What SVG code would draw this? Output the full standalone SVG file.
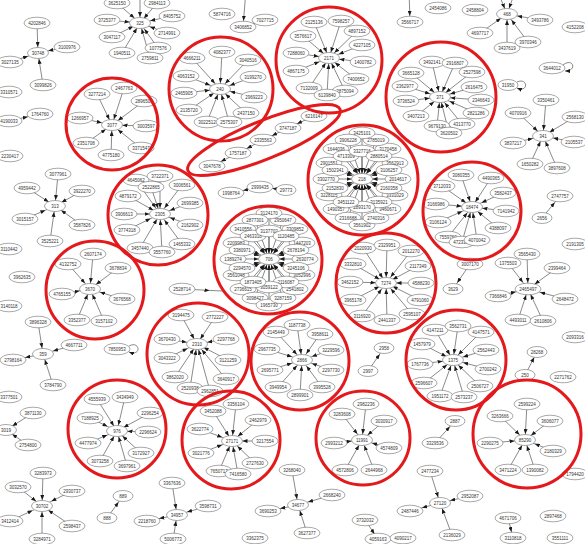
<svg xmlns="http://www.w3.org/2000/svg" width="585" height="544" viewBox="0 0 585 544">
<style>
ellipse{fill:#fff;stroke:#6e6e6e;stroke-width:.6}
.s ellipse{rx:13px;ry:5.8px}
.t ellipse{rx:10px;ry:5.5px}
.hb ellipse{rx:10.5px;ry:5.5px}
text{font-family:"Liberation Sans",Arial,sans-serif;font-size:4.5px;fill:#333;text-anchor:middle;dominant-baseline:central}
#edges line,#edges path{stroke:#3a3a3a;stroke-width:.6;fill:none}
.h{marker-end:url(#mh)}.d{marker-end:url(#md)}.v{marker-end:url(#mv)}
.H{marker-end:url(#sh)}.D{marker-end:url(#sd)}.V{marker-end:url(#sv)}.M{marker-end:url(#sm)}.A{marker-end:url(#ma)}
.ring{fill:none;stroke:#e3191c;stroke-width:3}
marker path{fill:#1a1a1a}
</style>
<defs>
<marker id="mh" markerUnits="userSpaceOnUse" markerWidth="5" markerHeight="4" refX="15.5" refY="2" orient="auto"><path d="M0,0L5,2L0,4z"/></marker>
<marker id="md" markerUnits="userSpaceOnUse" markerWidth="5" markerHeight="4" refX="12.5" refY="2" orient="auto"><path d="M0,0L5,2L0,4z"/></marker>
<marker id="mv" markerUnits="userSpaceOnUse" markerWidth="5" markerHeight="4" refX="11" refY="2" orient="auto"><path d="M0,0L5,2L0,4z"/></marker>
<marker id="sh" markerUnits="userSpaceOnUse" markerWidth="5" markerHeight="4" refX="17.5" refY="2" orient="auto"><path d="M0,0L5,2L0,4z"/></marker>
<marker id="sd" markerUnits="userSpaceOnUse" markerWidth="5" markerHeight="4" refX="13.3" refY="2" orient="auto"><path d="M0,0L5,2L0,4z"/></marker>
<marker id="sv" markerUnits="userSpaceOnUse" markerWidth="5" markerHeight="4" refX="11.2" refY="2" orient="auto"><path d="M0,0L5,2L0,4z"/></marker>
<marker id="sm" markerUnits="userSpaceOnUse" markerWidth="5" markerHeight="4" refX="15" refY="2" orient="auto"><path d="M0,0L5,2L0,4z"/></marker>
<marker id="ma" markerUnits="userSpaceOnUse" markerWidth="5" markerHeight="4" refX="5" refY="2" orient="auto"><path d="M0,0L5,2L0,4z"/></marker>
</defs>
<rect width="585" height="544" fill="#fff"/>
<g id="edges">
<line class="v" x1="37" y1="23" x2="38" y2="53"/><line class="h" x1="67" y1="47" x2="38" y2="53"/><line class="v" x1="43" y1="85" x2="38" y2="53"/><line class="h" x1="10" y1="62" x2="38" y2="53"/>
<line class="h" x1="107" y1="20" x2="140" y2="23"/><line class="h" x1="172" y1="16" x2="140" y2="23"/><line class="d" x1="112" y1="37" x2="140" y2="23"/><line class="h" x1="167" y1="33" x2="140" y2="23"/><line class="v" x1="122" y1="53" x2="140" y2="23"/><line class="d" x1="158" y1="48" x2="140" y2="23"/><line class="v" x1="150" y1="58" x2="140" y2="23"/><line class="d" x1="117" y1="3" x2="140" y2="23"/><line class="v" x1="157" y1="3" x2="140" y2="23"/><line class="v" x1="140" y1="-6" x2="140" y2="23"/>
<line class="H" x1="265" y1="20" x2="243" y2="27"/><line class="V" x1="246" y1="-10" x2="243" y2="27"/>
<line class="d" x1="192" y1="58" x2="220" y2="89"/><line class="v" x1="222" y1="52" x2="220" y2="89"/><line class="d" x1="248" y1="60" x2="220" y2="89"/><line class="h" x1="186" y1="76" x2="220" y2="89"/><line class="h" x1="253" y1="77" x2="220" y2="89"/><line class="h" x1="184" y1="93" x2="220" y2="89"/><line class="h" x1="254" y1="97" x2="220" y2="89"/><line class="d" x1="189" y1="110" x2="220" y2="89"/><line class="d" x1="246" y1="113" x2="220" y2="89"/><line class="v" x1="207" y1="122" x2="220" y2="89"/><line class="v" x1="229" y1="122" x2="220" y2="89"/>
<line class="v" x1="314" y1="22" x2="329" y2="58"/><line class="v" x1="341" y1="21" x2="329" y2="58"/><line class="d" x1="357" y1="31" x2="329" y2="58"/><line class="d" x1="303" y1="36" x2="329" y2="58"/><line class="h" x1="362" y1="45" x2="329" y2="58"/><line class="h" x1="296" y1="53" x2="329" y2="58"/><line class="h" x1="363" y1="62" x2="329" y2="58"/><line class="h" x1="296" y1="71" x2="329" y2="58"/><line class="d" x1="356" y1="79" x2="329" y2="58"/><line class="v" x1="309" y1="88" x2="329" y2="58"/><line class="v" x1="345" y1="91" x2="329" y2="58"/><line class="v" x1="327" y1="95" x2="329" y2="58"/>
<line class="v" x1="97" y1="94" x2="112" y2="125"/><line class="v" x1="124" y1="88" x2="112" y2="125"/><line class="d" x1="144" y1="101" x2="112" y2="125"/><line class="h" x1="80" y1="118" x2="112" y2="125"/><line class="h" x1="146" y1="126" x2="112" y2="125"/><line class="d" x1="86" y1="143" x2="112" y2="125"/><line class="d" x1="141" y1="148" x2="112" y2="125"/><line class="v" x1="111" y1="155" x2="112" y2="125"/>
<line class="v" x1="432" y1="62" x2="440" y2="97"/><line class="v" x1="455" y1="63" x2="440" y2="97"/><line class="d" x1="472" y1="72" x2="440" y2="97"/><line class="d" x1="411" y1="73" x2="440" y2="97"/><line class="h" x1="474" y1="87" x2="440" y2="97"/><line class="h" x1="405" y1="86" x2="440" y2="97"/><line class="h" x1="481" y1="100" x2="440" y2="97"/><line class="h" x1="406" y1="101" x2="440" y2="97"/><line class="h" x1="476" y1="113" x2="440" y2="97"/><line class="d" x1="416" y1="116" x2="440" y2="97"/><line class="v" x1="437" y1="126" x2="440" y2="97"/><line class="d" x1="462" y1="124" x2="440" y2="97"/><line class="v" x1="449" y1="133" x2="440" y2="97"/>
<line class="d" x1="480" y1="33" x2="507" y2="14"/><line class="v" x1="507" y1="48" x2="507" y2="14"/><line class="d" x1="528" y1="42" x2="507" y2="14"/><line class="h" x1="540" y1="20" x2="507" y2="14"/><line class="v" x1="498" y1="-8" x2="507" y2="14"/><line class="v" x1="515" y1="-8" x2="507" y2="14"/>
<line class="V" x1="409" y1="-10" x2="410" y2="22"/>
<path class="A" d="M563,65C573,57 578,71 565,71"/><path class="A" d="M517,82C528,77 529,93 517,88"/>
<line class="d" x1="518" y1="113" x2="543" y2="136"/><line class="v" x1="546" y1="100" x2="543" y2="136"/><line class="d" x1="575" y1="117" x2="543" y2="136"/><line class="h" x1="513" y1="143" x2="543" y2="136"/><line class="h" x1="574" y1="142" x2="543" y2="136"/><line class="v" x1="530" y1="164" x2="543" y2="136"/><line class="v" x1="557" y1="168" x2="543" y2="136"/>
<line class="v" x1="58" y1="174" x2="55" y2="206"/><line class="d" x1="27" y1="188" x2="55" y2="206"/><line class="d" x1="82" y1="191" x2="55" y2="206"/><line class="h" x1="25" y1="219" x2="55" y2="206"/><line class="d" x1="82" y1="225" x2="55" y2="206"/><line class="v" x1="50" y1="241" x2="55" y2="206"/>
<line class="H" x1="9" y1="121" x2="40" y2="114"/>
<line class="d" x1="136" y1="180" x2="160" y2="214"/><line class="v" x1="160" y1="176" x2="160" y2="214"/><line class="d" x1="182" y1="185" x2="160" y2="214"/><line class="d" x1="128" y1="196" x2="160" y2="214"/><line class="h" x1="190" y1="203" x2="160" y2="214"/><line class="h" x1="124" y1="214" x2="160" y2="214"/><line class="h" x1="190" y1="225" x2="160" y2="214"/><line class="h" x1="127" y1="230" x2="160" y2="214"/><line class="d" x1="182" y1="244" x2="160" y2="214"/><line class="v" x1="140" y1="248" x2="160" y2="214"/><line class="v" x1="162" y1="252" x2="160" y2="214"/><line class="v" x1="151" y1="187" x2="160" y2="214"/>
<line class="M" x1="314" y1="116" x2="288" y2="128"/><line class="M" x1="288" y1="128" x2="263" y2="140"/><line class="M" x1="263" y1="140" x2="238" y2="153"/><line class="M" x1="238" y1="153" x2="212" y2="166"/>
<line class="H" x1="286" y1="190" x2="260" y2="187"/><line class="H" x1="260" y1="187" x2="231" y2="193"/>
<line class="h" x1="389" y1="188" x2="362" y2="179"/><line class="d" x1="379" y1="202" x2="362" y2="179"/><line class="v" x1="362" y1="207" x2="362" y2="179"/><line class="d" x1="346" y1="202" x2="362" y2="179"/><line class="h" x1="335" y1="188" x2="362" y2="179"/><line class="h" x1="335" y1="170" x2="362" y2="179"/><line class="d" x1="346" y1="156" x2="362" y2="179"/><line class="v" x1="362" y1="151" x2="362" y2="179"/><line class="d" x1="379" y1="156" x2="362" y2="179"/><line class="h" x1="389" y1="170" x2="362" y2="179"/>
<line class="h" x1="398" y1="179" x2="362" y2="179"/><line class="h" x1="395" y1="195" x2="362" y2="179"/><line class="d" x1="388" y1="209" x2="362" y2="179"/><line class="v" x1="376" y1="218" x2="362" y2="179"/><line class="v" x1="362" y1="225" x2="362" y2="179"/><line class="v" x1="348" y1="218" x2="362" y2="179"/><line class="d" x1="336" y1="209" x2="362" y2="179"/><line class="h" x1="329" y1="195" x2="362" y2="179"/><line class="h" x1="326" y1="179" x2="362" y2="179"/><line class="h" x1="329" y1="163" x2="362" y2="179"/><line class="d" x1="336" y1="149" x2="362" y2="179"/><line class="v" x1="348" y1="140" x2="362" y2="179"/><line class="v" x1="362" y1="133" x2="362" y2="179"/><line class="v" x1="376" y1="140" x2="362" y2="179"/><line class="d" x1="388" y1="149" x2="362" y2="179"/><line class="h" x1="395" y1="163" x2="362" y2="179"/>
<line class="h" x1="296" y1="268" x2="269" y2="259"/><line class="d" x1="286" y1="282" x2="269" y2="259"/><line class="v" x1="269" y1="287" x2="269" y2="259"/><line class="d" x1="253" y1="282" x2="269" y2="259"/><line class="h" x1="242" y1="268" x2="269" y2="259"/><line class="h" x1="242" y1="250" x2="269" y2="259"/><line class="d" x1="253" y1="236" x2="269" y2="259"/><line class="v" x1="269" y1="231" x2="269" y2="259"/><line class="d" x1="286" y1="236" x2="269" y2="259"/><line class="h" x1="296" y1="250" x2="269" y2="259"/>
<line class="h" x1="305" y1="259" x2="269" y2="259"/><line class="h" x1="302" y1="275" x2="269" y2="259"/><line class="d" x1="295" y1="289" x2="269" y2="259"/><line class="v" x1="283" y1="298" x2="269" y2="259"/><line class="v" x1="269" y1="305" x2="269" y2="259"/><line class="v" x1="255" y1="298" x2="269" y2="259"/><line class="d" x1="243" y1="289" x2="269" y2="259"/><line class="h" x1="236" y1="275" x2="269" y2="259"/><line class="h" x1="233" y1="259" x2="269" y2="259"/><line class="h" x1="236" y1="243" x2="269" y2="259"/><line class="d" x1="243" y1="229" x2="269" y2="259"/><line class="v" x1="255" y1="220" x2="269" y2="259"/><line class="v" x1="269" y1="213" x2="269" y2="259"/><line class="v" x1="283" y1="220" x2="269" y2="259"/><line class="d" x1="295" y1="229" x2="269" y2="259"/><line class="h" x1="302" y1="243" x2="269" y2="259"/>
<line class="v" x1="461" y1="175" x2="472" y2="207"/><line class="v" x1="491" y1="178" x2="472" y2="207"/><line class="d" x1="442" y1="186" x2="472" y2="207"/><line class="h" x1="503" y1="193" x2="472" y2="207"/><line class="h" x1="436" y1="204" x2="472" y2="207"/><line class="h" x1="506" y1="211" x2="472" y2="207"/><line class="h" x1="438" y1="222" x2="472" y2="207"/><line class="d" x1="498" y1="228" x2="472" y2="207"/><line class="d" x1="448" y1="237" x2="472" y2="207"/><line class="v" x1="477" y1="240" x2="472" y2="207"/><line class="v" x1="462" y1="242" x2="472" y2="207"/>
<line class="D" x1="542" y1="218" x2="560" y2="196"/>
<line class="H" x1="498" y1="296" x2="528" y2="289"/><line class="H" x1="565" y1="299" x2="528" y2="289"/><line class="V" x1="518" y1="320" x2="528" y2="289"/><line class="V" x1="543" y1="321" x2="528" y2="289"/><line class="D" x1="508" y1="263" x2="528" y2="289"/><line class="D" x1="557" y1="268" x2="528" y2="289"/><line class="V" x1="527" y1="254" x2="528" y2="289"/>
<line class="d" x1="470" y1="264" x2="453" y2="289"/>
<line class="v" x1="363" y1="248" x2="386" y2="283"/><line class="v" x1="387" y1="245" x2="386" y2="283"/><line class="d" x1="411" y1="251" x2="386" y2="283"/><line class="d" x1="353" y1="264" x2="386" y2="283"/><line class="d" x1="418" y1="266" x2="386" y2="283"/><line class="h" x1="350" y1="282" x2="386" y2="283"/><line class="h" x1="421" y1="283" x2="386" y2="283"/><line class="d" x1="353" y1="300" x2="386" y2="283"/><line class="d" x1="420" y1="300" x2="386" y2="283"/><line class="d" x1="362" y1="316" x2="386" y2="283"/><line class="v" x1="387" y1="320" x2="386" y2="283"/><line class="d" x1="412" y1="314" x2="386" y2="283"/>
<line class="d" x1="368" y1="371" x2="384" y2="348"/>
<line class="v" x1="93" y1="254" x2="90" y2="289"/><line class="d" x1="68" y1="264" x2="90" y2="289"/><line class="d" x1="118" y1="268" x2="90" y2="289"/><line class="h" x1="62" y1="294" x2="90" y2="289"/><line class="h" x1="122" y1="299" x2="90" y2="289"/><line class="v" x1="77" y1="320" x2="90" y2="289"/><line class="v" x1="104" y1="321" x2="90" y2="289"/>
<line class="v" x1="38" y1="322" x2="43" y2="354"/><line class="h" x1="74" y1="345" x2="43" y2="354"/><line class="H" x1="43" y1="354" x2="13" y2="360"/><line class="v" x1="53" y1="385" x2="43" y2="354"/>
<path class="A" d="M129,346C140,340 142,357 129,352"/>
<line class="H" x1="182" y1="289" x2="222" y2="291"/>
<line class="v" x1="181" y1="315" x2="197" y2="344"/><line class="v" x1="215" y1="317" x2="197" y2="344"/><line class="h" x1="167" y1="339" x2="197" y2="344"/><line class="h" x1="226" y1="339" x2="197" y2="344"/><line class="h" x1="167" y1="358" x2="197" y2="344"/><line class="d" x1="228" y1="360" x2="197" y2="344"/><line class="v" x1="175" y1="377" x2="197" y2="344"/><line class="d" x1="226" y1="379" x2="197" y2="344"/><line class="v" x1="190" y1="388" x2="197" y2="344"/><line class="v" x1="210" y1="391" x2="197" y2="344"/>
<line class="v" x1="297" y1="325" x2="302" y2="360"/><line class="d" x1="276" y1="332" x2="302" y2="360"/><line class="d" x1="320" y1="334" x2="302" y2="360"/><line class="h" x1="267" y1="349" x2="302" y2="360"/><line class="h" x1="331" y1="350" x2="302" y2="360"/><line class="h" x1="270" y1="370" x2="302" y2="360"/><line class="h" x1="331" y1="370" x2="302" y2="360"/><line class="d" x1="278" y1="387" x2="302" y2="360"/><line class="d" x1="322" y1="387" x2="302" y2="360"/><line class="v" x1="300" y1="395" x2="302" y2="360"/>
<line class="v" x1="435" y1="330" x2="453" y2="360"/><line class="v" x1="458" y1="326" x2="453" y2="360"/><line class="d" x1="481" y1="332" x2="453" y2="360"/><line class="d" x1="422" y1="344" x2="453" y2="360"/><line class="h" x1="486" y1="350" x2="453" y2="360"/><line class="h" x1="420" y1="364" x2="453" y2="360"/><line class="h" x1="488" y1="369" x2="453" y2="360"/><line class="d" x1="424" y1="383" x2="453" y2="360"/><line class="d" x1="480" y1="386" x2="453" y2="360"/><line class="v" x1="440" y1="396" x2="453" y2="360"/><line class="v" x1="464" y1="397" x2="453" y2="360"/>
<line class="v" x1="525" y1="375" x2="537" y2="352"/>
<line class="v" x1="97" y1="399" x2="117" y2="431"/><line class="v" x1="125" y1="397" x2="117" y2="431"/><line class="h" x1="90" y1="418" x2="117" y2="431"/><line class="d" x1="150" y1="413" x2="117" y2="431"/><line class="h" x1="148" y1="432" x2="117" y2="431"/><line class="h" x1="88" y1="443" x2="117" y2="431"/><line class="v" x1="100" y1="461" x2="117" y2="431"/><line class="d" x1="141" y1="453" x2="117" y2="431"/><line class="v" x1="127" y1="466" x2="117" y2="431"/>
<line class="d" x1="33" y1="413" x2="6" y2="430"/><line class="d" x1="28" y1="445" x2="6" y2="430"/>
<line class="v" x1="43" y1="473" x2="42" y2="506"/><line class="d" x1="18" y1="487" x2="42" y2="506"/><line class="h" x1="72" y1="491" x2="42" y2="506"/><line class="h" x1="10" y1="521" x2="42" y2="506"/><line class="d" x1="72" y1="526" x2="42" y2="506"/><line class="v" x1="42" y1="540" x2="42" y2="506"/>
<line class="d" x1="107" y1="518" x2="123" y2="496"/>
<line class="v" x1="172" y1="483" x2="177" y2="515"/><line class="H" x1="177" y1="515" x2="147" y2="521"/><line class="v" x1="173" y1="540" x2="177" y2="515"/><line class="h" x1="208" y1="506" x2="177" y2="515"/>
<line class="v" x1="213" y1="411" x2="232" y2="441"/><line class="d" x1="258" y1="420" x2="232" y2="441"/><line class="h" x1="200" y1="429" x2="232" y2="441"/><line class="h" x1="265" y1="441" x2="232" y2="441"/><line class="h" x1="201" y1="453" x2="232" y2="441"/><line class="d" x1="255" y1="463" x2="232" y2="441"/><line class="v" x1="219" y1="471" x2="232" y2="441"/><line class="v" x1="238" y1="474" x2="232" y2="441"/><line class="v" x1="236" y1="404" x2="232" y2="441"/>
<line class="d" x1="342" y1="414" x2="362" y2="440"/><line class="v" x1="366" y1="404" x2="362" y2="440"/><line class="d" x1="384" y1="421" x2="362" y2="440"/><line class="h" x1="334" y1="443" x2="362" y2="440"/><line class="h" x1="389" y1="448" x2="362" y2="440"/><line class="v" x1="345" y1="470" x2="362" y2="440"/><line class="v" x1="374" y1="470" x2="362" y2="440"/>
<line class="v" x1="292" y1="470" x2="298" y2="505"/><line class="h" x1="332" y1="495" x2="298" y2="505"/><line class="H" x1="298" y1="505" x2="268" y2="511"/><line class="v" x1="307" y1="533" x2="298" y2="505"/>
<line class="V" x1="365" y1="520" x2="378" y2="539"/>
<line class="v" x1="527" y1="404" x2="525" y2="440"/><line class="d" x1="500" y1="416" x2="525" y2="440"/><line class="d" x1="550" y1="421" x2="525" y2="440"/><line class="h" x1="490" y1="443" x2="525" y2="440"/><line class="h" x1="553" y1="451" x2="525" y2="440"/><line class="v" x1="508" y1="470" x2="525" y2="440"/><line class="v" x1="535" y1="470" x2="525" y2="440"/>
<line class="d" x1="435" y1="443" x2="455" y2="421"/>
<line class="v" x1="430" y1="471" x2="440" y2="503"/><line class="h" x1="470" y1="496" x2="440" y2="503"/><line class="H" x1="440" y1="503" x2="410" y2="511"/><line class="v" x1="452" y1="535" x2="440" y2="503"/>
<line class="V" x1="508" y1="518" x2="513" y2="538"/>
</g>
<g id="nodes">
<g id="n-4202846" class="s"><ellipse cx="37" cy="23"/><text x="37" y="23">4202846</text></g>
<g id="n-3100976" class="s"><ellipse cx="67" cy="47"/><text x="67" y="47">3100976</text></g>
<g id="n-3099826" class="s"><ellipse cx="43" cy="85"/><text x="43" y="85">3099826</text></g>
<g id="n-3027135" class="s"><ellipse cx="10" cy="62"/><text x="10" y="62">3027135</text></g>
<g id="n-30748" class="hb"><ellipse cx="38" cy="53"/><text x="38" y="53">30748</text></g>
<g id="n-3725377" class="s"><ellipse cx="107" cy="20"/><text x="107" y="20">3725377</text></g>
<g id="n-8405752" class="s"><ellipse cx="172" cy="16"/><text x="172" y="16">8405752</text></g>
<g id="n-3047117" class="s"><ellipse cx="112" cy="37"/><text x="112" y="37">3047117</text></g>
<g id="n-2714991" class="s"><ellipse cx="167" cy="33"/><text x="167" y="33">2714991</text></g>
<g id="n-1940511" class="s"><ellipse cx="122" cy="53"/><text x="122" y="53">1940511</text></g>
<g id="n-1077576" class="s"><ellipse cx="158" cy="48"/><text x="158" y="48">1077576</text></g>
<g id="n-2759811" class="s"><ellipse cx="150" cy="58"/><text x="150" y="58">2759811</text></g>
<g id="n-3625150" class="s"><ellipse cx="117" cy="3"/><text x="117" y="3">3625150</text></g>
<g id="n-2984113" class="s"><ellipse cx="157" cy="3"/><text x="157" y="3">2984113</text></g>
<g id="n-325" class="hb"><ellipse cx="140" cy="23"/><text x="140" y="23">325</text></g>
<g id="n-5874716" class="s"><ellipse cx="222" cy="14"/><text x="222" y="14">5874716</text></g>
<g id="n-7027715" class="s"><ellipse cx="265" cy="20"/><text x="265" y="20">7027715</text></g>
<g id="n-3406852" class="s"><ellipse cx="243" cy="27"/><text x="243" y="27">3406852</text></g>
<g id="n-4666211" class="s"><ellipse cx="192" cy="58"/><text x="192" y="58">4666211</text></g>
<g id="n-4082377" class="s"><ellipse cx="222" cy="52"/><text x="222" y="52">4082377</text></g>
<g id="n-3040516" class="s"><ellipse cx="248" cy="60"/><text x="248" y="60">3040516</text></g>
<g id="n-4063152" class="s"><ellipse cx="186" cy="76"/><text x="186" y="76">4063152</text></g>
<g id="n-3199270" class="s"><ellipse cx="253" cy="77"/><text x="253" y="77">3199270</text></g>
<g id="n-2465905" class="s"><ellipse cx="184" cy="93"/><text x="184" y="93">2465905</text></g>
<g id="n-2969223" class="s"><ellipse cx="254" cy="97"/><text x="254" y="97">2969223</text></g>
<g id="n-2135720" class="s"><ellipse cx="189" cy="110"/><text x="189" y="110">2135720</text></g>
<g id="n-2437150" class="s"><ellipse cx="246" cy="113"/><text x="246" y="113">2437150</text></g>
<g id="n-3022512" class="s"><ellipse cx="207" cy="122"/><text x="207" y="122">3022512</text></g>
<g id="n-2575307" class="s"><ellipse cx="229" cy="122"/><text x="229" y="122">2575307</text></g>
<g id="n-240" class="hb"><ellipse cx="220" cy="89"/><text x="220" y="89">240</text></g>
<g id="n-2125136" class="s"><ellipse cx="314" cy="22"/><text x="314" y="22">2125136</text></g>
<g id="n-7598257" class="s"><ellipse cx="341" cy="21"/><text x="341" y="21">7598257</text></g>
<g id="n-4897152" class="s"><ellipse cx="357" cy="31"/><text x="357" y="31">4897152</text></g>
<g id="n-3576617" class="s"><ellipse cx="303" cy="36"/><text x="303" y="36">3576617</text></g>
<g id="n-4227105" class="s"><ellipse cx="362" cy="45"/><text x="362" y="45">4227105</text></g>
<g id="n-7288060" class="s"><ellipse cx="296" cy="53"/><text x="296" y="53">7288060</text></g>
<g id="n-1400782" class="s"><ellipse cx="363" cy="62"/><text x="363" y="62">1400782</text></g>
<g id="n-4867175" class="s"><ellipse cx="296" cy="71"/><text x="296" y="71">4867175</text></g>
<g id="n-7400652" class="s"><ellipse cx="356" cy="79"/><text x="356" y="79">7400652</text></g>
<g id="n-7132009" class="s"><ellipse cx="309" cy="88"/><text x="309" y="88">7132009</text></g>
<g id="n-2875094" class="s"><ellipse cx="345" cy="91"/><text x="345" y="91">2875094</text></g>
<g id="n-6139840" class="s"><ellipse cx="327" cy="95"/><text x="327" y="95">6139840</text></g>
<g id="n-2171" class="hb"><ellipse cx="329" cy="58"/><text x="329" y="58">2171</text></g>
<g id="n-3277214" class="s"><ellipse cx="97" cy="94"/><text x="97" y="94">3277214</text></g>
<g id="n-2467763" class="s"><ellipse cx="124" cy="88"/><text x="124" y="88">2467763</text></g>
<g id="n-2896503" class="s"><ellipse cx="144" cy="101"/><text x="144" y="101">2896503</text></g>
<g id="n-1266957" class="s"><ellipse cx="80" cy="118"/><text x="80" y="118">1266957</text></g>
<g id="n-3003597" class="s"><ellipse cx="146" cy="126"/><text x="146" y="126">3003597</text></g>
<g id="n-2351708" class="s"><ellipse cx="86" cy="143"/><text x="86" y="143">2351708</text></g>
<g id="n-3371547" class="s"><ellipse cx="141" cy="148"/><text x="141" y="148">3371547</text></g>
<g id="n-4775180" class="s"><ellipse cx="111" cy="155"/><text x="111" y="155">4775180</text></g>
<g id="n-3077" class="hb"><ellipse cx="112" cy="125"/><text x="112" y="125">3077</text></g>
<g id="n-3492141" class="s"><ellipse cx="432" cy="62"/><text x="432" y="62">3492141</text></g>
<g id="n-2916807" class="s"><ellipse cx="455" cy="63"/><text x="455" y="63">2916807</text></g>
<g id="n-2527598" class="s"><ellipse cx="472" cy="72"/><text x="472" y="72">2527598</text></g>
<g id="n-3665128" class="s"><ellipse cx="411" cy="73"/><text x="411" y="73">3665128</text></g>
<g id="n-2616475" class="s"><ellipse cx="474" cy="87"/><text x="474" y="87">2616475</text></g>
<g id="n-2362977" class="s"><ellipse cx="405" cy="86"/><text x="405" y="86">2362977</text></g>
<g id="n-2346643" class="s"><ellipse cx="481" cy="100"/><text x="481" y="100">2346643</text></g>
<g id="n-3736524" class="s"><ellipse cx="406" cy="101"/><text x="406" y="101">3736524</text></g>
<g id="n-2821286" class="s"><ellipse cx="476" cy="113"/><text x="476" y="113">2821286</text></g>
<g id="n-3407213" class="s"><ellipse cx="416" cy="116"/><text x="416" y="116">3407213</text></g>
<g id="n-9679130" class="s"><ellipse cx="437" cy="126"/><text x="437" y="126">9679130</text></g>
<g id="n-4313770" class="s"><ellipse cx="462" cy="124"/><text x="462" y="124">4313770</text></g>
<g id="n-3620502" class="s"><ellipse cx="449" cy="133"/><text x="449" y="133">3620502</text></g>
<g id="n-371" class="hb"><ellipse cx="440" cy="97"/><text x="440" y="97">371</text></g>
<g id="n-4697717" class="s"><ellipse cx="480" cy="33"/><text x="480" y="33">4697717</text></g>
<g id="n-3437619" class="s"><ellipse cx="507" cy="48"/><text x="507" y="48">3437619</text></g>
<g id="n-3970346" class="s"><ellipse cx="528" cy="42"/><text x="528" y="42">3970346</text></g>
<g id="n-3493786" class="s"><ellipse cx="540" cy="20"/><text x="540" y="20">3493786</text></g>
<g id="n-468" class="hb"><ellipse cx="507" cy="14"/><text x="507" y="14">468</text></g>
<g id="n-2454086" class="s"><ellipse cx="438" cy="8"/><text x="438" y="8">2454086</text></g>
<g id="n-2458804" class="s"><ellipse cx="475" cy="10"/><text x="475" y="10">2458804</text></g>
<g id="n-3566717" class="s"><ellipse cx="410" cy="22"/><text x="410" y="22">3566717</text></g>
<g id="n-4152208" class="s"><ellipse cx="575" cy="27"/><text x="575" y="27">4152208</text></g>
<g id="n-3644012" class="s"><ellipse cx="552" cy="68"/><text x="552" y="68">3644012</text></g>
<g id="n-31950" class="t"><ellipse cx="508" cy="85"/><text x="508" y="85">31950</text></g>
<g id="n-4070916" class="s"><ellipse cx="518" cy="113"/><text x="518" y="113">4070916</text></g>
<g id="n-3350461" class="s"><ellipse cx="546" cy="100"/><text x="546" y="100">3350461</text></g>
<g id="n-2568130" class="s"><ellipse cx="575" cy="117"/><text x="575" y="117">2568130</text></g>
<g id="n-3837217" class="s"><ellipse cx="513" cy="143"/><text x="513" y="143">3837217</text></g>
<g id="n-2105537" class="s"><ellipse cx="574" cy="142"/><text x="574" y="142">2105537</text></g>
<g id="n-1650282" class="s"><ellipse cx="530" cy="164"/><text x="530" y="164">1650282</text></g>
<g id="n-3897608" class="s"><ellipse cx="557" cy="168"/><text x="557" y="168">3897608</text></g>
<g id="n-341" class="hb"><ellipse cx="543" cy="136"/><text x="543" y="136">341</text></g>
<g id="n-1764760" class="s"><ellipse cx="40" cy="114"/><text x="40" y="114">1764760</text></g>
<g id="n-4190033" class="s"><ellipse cx="9" cy="121"/><text x="9" y="121">4190033</text></g>
<g id="n-3310571" class="s"><ellipse cx="9" cy="92"/><text x="9" y="92">3310571</text></g>
<g id="n-2230417" class="s"><ellipse cx="10" cy="156"/><text x="10" y="156">2230417</text></g>
<g id="n-3077961" class="s"><ellipse cx="58" cy="174"/><text x="58" y="174">3077961</text></g>
<g id="n-4959442" class="s"><ellipse cx="27" cy="188"/><text x="27" y="188">4959442</text></g>
<g id="n-3922270" class="s"><ellipse cx="82" cy="191"/><text x="82" y="191">3922270</text></g>
<g id="n-3015157" class="s"><ellipse cx="25" cy="219"/><text x="25" y="219">3015157</text></g>
<g id="n-3587826" class="s"><ellipse cx="82" cy="225"/><text x="82" y="225">3587826</text></g>
<g id="n-3525221" class="s"><ellipse cx="50" cy="241"/><text x="50" y="241">3525221</text></g>
<g id="n-313" class="hb"><ellipse cx="55" cy="206"/><text x="55" y="206">313</text></g>
<g id="n-3110442" class="s"><ellipse cx="9" cy="249"/><text x="9" y="249">3110442</text></g>
<g id="n-4645062" class="s"><ellipse cx="136" cy="180"/><text x="136" y="180">4645062</text></g>
<g id="n-3722371" class="s"><ellipse cx="160" cy="176"/><text x="160" y="176">3722371</text></g>
<g id="n-3006561" class="s"><ellipse cx="182" cy="185"/><text x="182" y="185">3006561</text></g>
<g id="n-2522865" class="s"><ellipse cx="151" cy="187"/><text x="151" y="187">2522865</text></g>
<g id="n-4879172" class="s"><ellipse cx="128" cy="196"/><text x="128" y="196">4879172</text></g>
<g id="n-2699385" class="s"><ellipse cx="190" cy="203"/><text x="190" y="203">2699385</text></g>
<g id="n-3906613" class="s"><ellipse cx="124" cy="214"/><text x="124" y="214">3906613</text></g>
<g id="n-2162902" class="s"><ellipse cx="190" cy="225"/><text x="190" y="225">2162902</text></g>
<g id="n-3774318" class="s"><ellipse cx="127" cy="230"/><text x="127" y="230">3774318</text></g>
<g id="n-1465332" class="s"><ellipse cx="182" cy="244"/><text x="182" y="244">1465332</text></g>
<g id="n-3457440" class="s"><ellipse cx="140" cy="248"/><text x="140" y="248">3457440</text></g>
<g id="n-3557760" class="s"><ellipse cx="162" cy="252"/><text x="162" y="252">3557760</text></g>
<g id="n-2305" class="hb"><ellipse cx="160" cy="214"/><text x="160" y="214">2305</text></g>
<g id="n-6216147" class="s"><ellipse cx="314" cy="116"/><text x="314" y="116">6216147</text></g>
<g id="n-3747187" class="s"><ellipse cx="288" cy="128"/><text x="288" y="128">3747187</text></g>
<g id="n-2335563" class="s"><ellipse cx="263" cy="140"/><text x="263" y="140">2335563</text></g>
<g id="n-1757187" class="s"><ellipse cx="238" cy="153"/><text x="238" y="153">1757187</text></g>
<g id="n-3047678" class="s"><ellipse cx="212" cy="166"/><text x="212" y="166">3047678</text></g>
<g id="n-1998764" class="s"><ellipse cx="231" cy="193"/><text x="231" y="193">1998764</text></g>
<g id="n-2999435" class="s"><ellipse cx="260" cy="187"/><text x="260" y="187">2999435</text></g>
<g id="n-29773" class="t"><ellipse cx="286" cy="190"/><text x="286" y="190">29773</text></g>
<g id="n-3170458" class="s"><ellipse cx="388" cy="149"/><text x="388" y="149">3170458</text></g>
<g id="n-2785019" class="s"><ellipse cx="376" cy="140"/><text x="376" y="140">2785019</text></g>
<g id="n-3425101" class="s"><ellipse cx="362" cy="133"/><text x="362" y="133">3425101</text></g>
<g id="n-3906228" class="s"><ellipse cx="348" cy="140"/><text x="348" y="140">3906228</text></g>
<g id="n-1644036" class="s"><ellipse cx="336" cy="149"/><text x="336" y="149">1644036</text></g>
<g id="n-2901551" class="s"><ellipse cx="329" cy="163"/><text x="329" y="163">2901551</text></g>
<g id="n-3302770" class="s"><ellipse cx="326" cy="179"/><text x="326" y="179">3302770</text></g>
<g id="n-3228115" class="s"><ellipse cx="329" cy="195"/><text x="329" y="195">3228115</text></g>
<g id="n-1490357" class="s"><ellipse cx="336" cy="209"/><text x="336" y="209">1490357</text></g>
<g id="n-2316688" class="s"><ellipse cx="348" cy="218"/><text x="348" y="218">2316688</text></g>
<g id="n-3561902" class="s"><ellipse cx="362" cy="225"/><text x="362" y="225">3561902</text></g>
<g id="n-2740316" class="s"><ellipse cx="376" cy="218"/><text x="376" y="218">2740316</text></g>
<g id="n-3460671" class="s"><ellipse cx="388" cy="209"/><text x="388" y="209">3460671</text></g>
<g id="n-3331029" class="s"><ellipse cx="395" cy="195"/><text x="395" y="195">3331029</text></g>
<g id="n-2014617" class="s"><ellipse cx="398" cy="179"/><text x="398" y="179">2014617</text></g>
<g id="n-3562913" class="s"><ellipse cx="395" cy="163"/><text x="395" y="163">3562913</text></g>
<g id="n-2160358" class="s"><ellipse cx="389" cy="188"/><text x="389" y="188">2160358</text></g>
<g id="n-3135921" class="s"><ellipse cx="379" cy="202"/><text x="379" y="202">3135921</text></g>
<g id="n-2893170" class="s"><ellipse cx="362" cy="207"/><text x="362" y="207">2893170</text></g>
<g id="n-3451122" class="s"><ellipse cx="346" cy="202"/><text x="346" y="202">3451122</text></g>
<g id="n-2152830" class="s"><ellipse cx="335" cy="188"/><text x="335" y="188">2152830</text></g>
<g id="n-1502341" class="s"><ellipse cx="335" cy="170"/><text x="335" y="170">1502341</text></g>
<g id="n-4713309" class="s"><ellipse cx="346" cy="156"/><text x="346" y="156">4713309</text></g>
<g id="n-3327716" class="s"><ellipse cx="362" cy="151"/><text x="362" y="151">3327716</text></g>
<g id="n-2880514" class="s"><ellipse cx="379" cy="156"/><text x="379" y="156">2880514</text></g>
<g id="n-3106257" class="s"><ellipse cx="389" cy="170"/><text x="389" y="170">3106257</text></g>
<g id="n-218" class="hb"><ellipse cx="362" cy="179"/><text x="362" y="179">218</text></g>
<g id="n-3309852" class="s"><ellipse cx="295" cy="229"/><text x="295" y="229">3309852</text></g>
<g id="n-2950647" class="s"><ellipse cx="283" cy="220"/><text x="283" y="220">2950647</text></g>
<g id="n-3124170" class="s"><ellipse cx="269" cy="213"/><text x="269" y="213">3124170</text></g>
<g id="n-2877301" class="s"><ellipse cx="255" cy="220"/><text x="255" y="220">2877301</text></g>
<g id="n-3410556" class="s"><ellipse cx="243" cy="229"/><text x="243" y="229">3410556</text></g>
<g id="n-2209983" class="s"><ellipse cx="236" cy="243"/><text x="236" y="243">2209983</text></g>
<g id="n-1389274" class="s"><ellipse cx="233" cy="259"/><text x="233" y="259">1389274</text></g>
<g id="n-3561048" class="s"><ellipse cx="236" cy="275"/><text x="236" y="275">3561048</text></g>
<g id="n-2736615" class="s"><ellipse cx="243" cy="289"/><text x="243" y="289">2736615</text></g>
<g id="n-3098427" class="s"><ellipse cx="255" cy="298"/><text x="255" y="298">3098427</text></g>
<g id="n-1965730" class="s"><ellipse cx="269" cy="305"/><text x="269" y="305">1965730</text></g>
<g id="n-3287159" class="s"><ellipse cx="283" cy="298"/><text x="283" y="298">3287159</text></g>
<g id="n-2541802" class="s"><ellipse cx="295" cy="289"/><text x="295" y="289">2541802</text></g>
<g id="n-3052996" class="s"><ellipse cx="302" cy="275"/><text x="302" y="275">3052996</text></g>
<g id="n-2630774" class="s"><ellipse cx="305" cy="259"/><text x="305" y="259">2630774</text></g>
<g id="n-1447203" class="s"><ellipse cx="302" cy="243"/><text x="302" y="243">1447203</text></g>
<g id="n-3245106" class="s"><ellipse cx="296" cy="268"/><text x="296" y="268">3245106</text></g>
<g id="n-2116087" class="s"><ellipse cx="286" cy="282"/><text x="286" y="282">2116087</text></g>
<g id="n-3059122" class="s"><ellipse cx="269" cy="287"/><text x="269" y="287">3059122</text></g>
<g id="n-1873405" class="s"><ellipse cx="253" cy="282"/><text x="253" y="282">1873405</text></g>
<g id="n-2294570" class="s"><ellipse cx="242" cy="268"/><text x="242" y="268">2294570</text></g>
<g id="n-3380971" class="s"><ellipse cx="242" cy="250"/><text x="242" y="250">3380971</text></g>
<g id="n-2463318" class="s"><ellipse cx="253" cy="236"/><text x="253" y="236">2463318</text></g>
<g id="n-3137702" class="s"><ellipse cx="269" cy="231"/><text x="269" y="231">3137702</text></g>
<g id="n-1120485" class="s"><ellipse cx="286" cy="236"/><text x="286" y="236">1120485</text></g>
<g id="n-2678194" class="s"><ellipse cx="296" cy="250"/><text x="296" y="250">2678194</text></g>
<g id="n-706" class="hb"><ellipse cx="269" cy="259"/><text x="269" y="259">706</text></g>
<g id="n-3080355" class="s"><ellipse cx="461" cy="175"/><text x="461" y="175">3080355</text></g>
<g id="n-4490365" class="s"><ellipse cx="491" cy="178"/><text x="491" y="178">4490365</text></g>
<g id="n-3712033" class="s"><ellipse cx="442" cy="186"/><text x="442" y="186">3712033</text></g>
<g id="n-3582437" class="s"><ellipse cx="503" cy="193"/><text x="503" y="193">3582437</text></g>
<g id="n-3166986" class="s"><ellipse cx="436" cy="204"/><text x="436" y="204">3166986</text></g>
<g id="n-7141942" class="s"><ellipse cx="506" cy="211"/><text x="506" y="211">7141942</text></g>
<g id="n-3106124" class="s"><ellipse cx="438" cy="222"/><text x="438" y="222">3106124</text></g>
<g id="n-4388097" class="s"><ellipse cx="498" cy="228"/><text x="498" y="228">4388097</text></g>
<g id="n-7559760" class="s"><ellipse cx="448" cy="237"/><text x="448" y="237">7559760</text></g>
<g id="n-4723321" class="s"><ellipse cx="462" cy="242"/><text x="462" y="242">4723321</text></g>
<g id="n-4070042" class="s"><ellipse cx="477" cy="240"/><text x="477" y="240">4070042</text></g>
<g id="n-18474" class="hb"><ellipse cx="472" cy="207"/><text x="472" y="207">18474</text></g>
<g id="n-2747757" class="s"><ellipse cx="560" cy="196"/><text x="560" y="196">2747757</text></g>
<g id="n-2656" class="t"><ellipse cx="542" cy="218"/><text x="542" y="218">2656</text></g>
<g id="n-2191305" class="s"><ellipse cx="575" cy="244"/><text x="575" y="244">2191305</text></g>
<g id="n-3565430" class="s"><ellipse cx="527" cy="254"/><text x="527" y="254">3565430</text></g>
<g id="n-1375503" class="s"><ellipse cx="508" cy="263"/><text x="508" y="263">1375503</text></g>
<g id="n-2399464" class="s"><ellipse cx="557" cy="268"/><text x="557" y="268">2399464</text></g>
<g id="n-7366846" class="s"><ellipse cx="498" cy="296"/><text x="498" y="296">7366846</text></g>
<g id="n-2648472" class="s"><ellipse cx="565" cy="299"/><text x="565" y="299">2648472</text></g>
<g id="n-4493011" class="s"><ellipse cx="518" cy="320"/><text x="518" y="320">4493011</text></g>
<g id="n-2610806" class="s"><ellipse cx="543" cy="321"/><text x="543" y="321">2610806</text></g>
<g id="n-2465497" class="s"><ellipse cx="528" cy="289"/><text x="528" y="289">2465497</text></g>
<g id="n-3007170" class="s"><ellipse cx="470" cy="264"/><text x="470" y="264">3007170</text></g>
<g id="n-3629" class="t"><ellipse cx="453" cy="289"/><text x="453" y="289">3629</text></g>
<g id="n-2020930" class="s"><ellipse cx="363" cy="248"/><text x="363" y="248">2020930</text></g>
<g id="n-2329951" class="s"><ellipse cx="387" cy="245"/><text x="387" y="245">2329951</text></g>
<g id="n-2012270" class="s"><ellipse cx="411" cy="251"/><text x="411" y="251">2012270</text></g>
<g id="n-3332810" class="s"><ellipse cx="353" cy="264"/><text x="353" y="264">3332810</text></g>
<g id="n-2117349" class="s"><ellipse cx="418" cy="266"/><text x="418" y="266">2117349</text></g>
<g id="n-3462152" class="s"><ellipse cx="350" cy="282"/><text x="350" y="282">3462152</text></g>
<g id="n-4588230" class="s"><ellipse cx="421" cy="283"/><text x="421" y="283">4588230</text></g>
<g id="n-3965178" class="s"><ellipse cx="353" cy="300"/><text x="353" y="300">3965178</text></g>
<g id="n-4791060" class="s"><ellipse cx="420" cy="300"/><text x="420" y="300">4791060</text></g>
<g id="n-3116920" class="s"><ellipse cx="362" cy="316"/><text x="362" y="316">3116920</text></g>
<g id="n-2441337" class="s"><ellipse cx="387" cy="320"/><text x="387" y="320">2441337</text></g>
<g id="n-2595107" class="s"><ellipse cx="412" cy="314"/><text x="412" y="314">2595107</text></g>
<g id="n-7274" class="hb"><ellipse cx="386" cy="283"/><text x="386" y="283">7274</text></g>
<g id="n-2958" class="t"><ellipse cx="384" cy="348"/><text x="384" y="348">2958</text></g>
<g id="n-2997" class="t"><ellipse cx="368" cy="371"/><text x="368" y="371">2997</text></g>
<g id="n-2607174" class="s"><ellipse cx="93" cy="254"/><text x="93" y="254">2607174</text></g>
<g id="n-4132752" class="s"><ellipse cx="68" cy="264"/><text x="68" y="264">4132752</text></g>
<g id="n-3678834" class="s"><ellipse cx="118" cy="268"/><text x="118" y="268">3678834</text></g>
<g id="n-4765155" class="s"><ellipse cx="62" cy="294"/><text x="62" y="294">4765155</text></g>
<g id="n-3676568" class="s"><ellipse cx="122" cy="299"/><text x="122" y="299">3676568</text></g>
<g id="n-3352377" class="s"><ellipse cx="77" cy="320"/><text x="77" y="320">3352377</text></g>
<g id="n-3157102" class="s"><ellipse cx="104" cy="321"/><text x="104" y="321">3157102</text></g>
<g id="n-3670" class="hb"><ellipse cx="90" cy="289"/><text x="90" y="289">3670</text></g>
<g id="n-3962635" class="s"><ellipse cx="22" cy="277"/><text x="22" y="277">3962635</text></g>
<g id="n-3896328" class="s"><ellipse cx="38" cy="322"/><text x="38" y="322">3896328</text></g>
<g id="n-4667711" class="s"><ellipse cx="74" cy="345"/><text x="74" y="345">4667711</text></g>
<g id="n-2798164" class="s"><ellipse cx="13" cy="360"/><text x="13" y="360">2798164</text></g>
<g id="n-3784790" class="s"><ellipse cx="53" cy="385"/><text x="53" y="385">3784790</text></g>
<g id="n-359" class="hb"><ellipse cx="43" cy="354"/><text x="43" y="354">359</text></g>
<g id="n-3140118" class="s"><ellipse cx="9" cy="306"/><text x="9" y="306">3140118</text></g>
<g id="n-3377501" class="s"><ellipse cx="9" cy="397"/><text x="9" y="397">3377501</text></g>
<g id="n-7850953" class="s"><ellipse cx="117" cy="349"/><text x="117" y="349">7850953</text></g>
<g id="n-2528714" class="s"><ellipse cx="182" cy="289"/><text x="182" y="289">2528714</text></g>
<g id="n-3194475" class="s"><ellipse cx="181" cy="315"/><text x="181" y="315">3194475</text></g>
<g id="n-2772227" class="s"><ellipse cx="215" cy="317"/><text x="215" y="317">2772227</text></g>
<g id="n-3670430" class="s"><ellipse cx="167" cy="339"/><text x="167" y="339">3670430</text></g>
<g id="n-2297768" class="s"><ellipse cx="226" cy="339"/><text x="226" y="339">2297768</text></g>
<g id="n-3043322" class="s"><ellipse cx="167" cy="358"/><text x="167" y="358">3043322</text></g>
<g id="n-3121259" class="s"><ellipse cx="228" cy="360"/><text x="228" y="360">3121259</text></g>
<g id="n-3862020" class="s"><ellipse cx="175" cy="377"/><text x="175" y="377">3862020</text></g>
<g id="n-3640917" class="s"><ellipse cx="226" cy="379"/><text x="226" y="379">3640917</text></g>
<g id="n-2520938" class="s"><ellipse cx="190" cy="388"/><text x="190" y="388">2520938</text></g>
<g id="n-2962851" class="s"><ellipse cx="210" cy="391"/><text x="210" y="391">2962851</text></g>
<g id="n-2310" class="hb"><ellipse cx="197" cy="344"/><text x="197" y="344">2310</text></g>
<g id="n-1187738" class="s"><ellipse cx="297" cy="325"/><text x="297" y="325">1187738</text></g>
<g id="n-2145449" class="s"><ellipse cx="276" cy="332"/><text x="276" y="332">2145449</text></g>
<g id="n-3958611" class="s"><ellipse cx="320" cy="334"/><text x="320" y="334">3958611</text></g>
<g id="n-2967735" class="s"><ellipse cx="267" cy="349"/><text x="267" y="349">2967735</text></g>
<g id="n-3229596" class="s"><ellipse cx="331" cy="350"/><text x="331" y="350">3229596</text></g>
<g id="n-2695771" class="s"><ellipse cx="270" cy="370"/><text x="270" y="370">2695771</text></g>
<g id="n-2297730" class="s"><ellipse cx="331" cy="370"/><text x="331" y="370">2297730</text></g>
<g id="n-3949954" class="s"><ellipse cx="278" cy="387"/><text x="278" y="387">3949954</text></g>
<g id="n-3995528" class="s"><ellipse cx="322" cy="387"/><text x="322" y="387">3995528</text></g>
<g id="n-2899901" class="s"><ellipse cx="300" cy="395"/><text x="300" y="395">2899901</text></g>
<g id="n-2866" class="hb"><ellipse cx="302" cy="360"/><text x="302" y="360">2866</text></g>
<g id="n-4147211" class="s"><ellipse cx="435" cy="330"/><text x="435" y="330">4147211</text></g>
<g id="n-3562731" class="s"><ellipse cx="458" cy="326"/><text x="458" y="326">3562731</text></g>
<g id="n-4147571" class="s"><ellipse cx="481" cy="332"/><text x="481" y="332">4147571</text></g>
<g id="n-1457979" class="s"><ellipse cx="422" cy="344"/><text x="422" y="344">1457979</text></g>
<g id="n-2562443" class="s"><ellipse cx="486" cy="350"/><text x="486" y="350">2562443</text></g>
<g id="n-1767736" class="s"><ellipse cx="420" cy="364"/><text x="420" y="364">1767736</text></g>
<g id="n-2700242" class="s"><ellipse cx="488" cy="369"/><text x="488" y="369">2700242</text></g>
<g id="n-2596607" class="s"><ellipse cx="424" cy="383"/><text x="424" y="383">2596607</text></g>
<g id="n-2506727" class="s"><ellipse cx="480" cy="386"/><text x="480" y="386">2506727</text></g>
<g id="n-1951172" class="s"><ellipse cx="440" cy="396"/><text x="440" y="396">1951172</text></g>
<g id="n-2573237" class="s"><ellipse cx="464" cy="397"/><text x="464" y="397">2573237</text></g>
<g id="n-1375" class="hb"><ellipse cx="453" cy="360"/><text x="453" y="360">1375</text></g>
<g id="n-28268" class="t"><ellipse cx="537" cy="352"/><text x="537" y="352">28268</text></g>
<g id="n-250" class="t"><ellipse cx="525" cy="375"/><text x="525" y="375">250</text></g>
<g id="n-2271762" class="s"><ellipse cx="563" cy="377"/><text x="563" y="377">2271762</text></g>
<g id="n-2093316" class="s"><ellipse cx="575" cy="337"/><text x="575" y="337">2093316</text></g>
<g id="n-4555939" class="s"><ellipse cx="97" cy="399"/><text x="97" y="399">4555939</text></g>
<g id="n-3434949" class="s"><ellipse cx="125" cy="397"/><text x="125" y="397">3434949</text></g>
<g id="n-7188925" class="s"><ellipse cx="90" cy="418"/><text x="90" y="418">7188925</text></g>
<g id="n-2296254" class="s"><ellipse cx="150" cy="413"/><text x="150" y="413">2296254</text></g>
<g id="n-2296624" class="s"><ellipse cx="148" cy="432"/><text x="148" y="432">2296624</text></g>
<g id="n-4477974" class="s"><ellipse cx="88" cy="443"/><text x="88" y="443">4477974</text></g>
<g id="n-3073258" class="s"><ellipse cx="100" cy="461"/><text x="100" y="461">3073258</text></g>
<g id="n-3172927" class="s"><ellipse cx="141" cy="453"/><text x="141" y="453">3172927</text></g>
<g id="n-3697961" class="s"><ellipse cx="127" cy="466"/><text x="127" y="466">3697961</text></g>
<g id="n-976" class="hb"><ellipse cx="117" cy="431"/><text x="117" y="431">976</text></g>
<g id="n-3871130" class="s"><ellipse cx="33" cy="413"/><text x="33" y="413">3871130</text></g>
<g id="n-2754800" class="s"><ellipse cx="28" cy="445"/><text x="28" y="445">2754800</text></g>
<g id="n-3019" class="hb"><ellipse cx="6" cy="430"/><text x="6" y="430">3019</text></g>
<g id="n-3283973" class="s"><ellipse cx="43" cy="473"/><text x="43" y="473">3283973</text></g>
<g id="n-3032570" class="s"><ellipse cx="18" cy="487"/><text x="18" y="487">3032570</text></g>
<g id="n-2930737" class="s"><ellipse cx="72" cy="491"/><text x="72" y="491">2930737</text></g>
<g id="n-3412414" class="s"><ellipse cx="10" cy="521"/><text x="10" y="521">3412414</text></g>
<g id="n-2598437" class="s"><ellipse cx="72" cy="526"/><text x="72" y="526">2598437</text></g>
<g id="n-3284971" class="s"><ellipse cx="42" cy="539"/><text x="42" y="539">3284971</text></g>
<g id="n-30702" class="hb"><ellipse cx="42" cy="506"/><text x="42" y="506">30702</text></g>
<g id="n-889" class="t"><ellipse cx="123" cy="496"/><text x="123" y="496">889</text></g>
<g id="n-888" class="t"><ellipse cx="107" cy="518"/><text x="107" y="518">888</text></g>
<g id="n-3367636" class="s"><ellipse cx="172" cy="483"/><text x="172" y="483">3367636</text></g>
<g id="n-2218760" class="s"><ellipse cx="147" cy="521"/><text x="147" y="521">2218760</text></g>
<g id="n-5006773" class="s"><ellipse cx="173" cy="539"/><text x="173" y="539">5006773</text></g>
<g id="n-3598731" class="s"><ellipse cx="208" cy="506"/><text x="208" y="506">3598731</text></g>
<g id="n-34957" class="hb"><ellipse cx="177" cy="515"/><text x="177" y="515">34957</text></g>
<g id="n-3356104" class="s"><ellipse cx="236" cy="404"/><text x="236" y="404">3356104</text></g>
<g id="n-3452088" class="s"><ellipse cx="213" cy="411"/><text x="213" y="411">3452088</text></g>
<g id="n-2462979" class="s"><ellipse cx="258" cy="420"/><text x="258" y="420">2462979</text></g>
<g id="n-3622774" class="s"><ellipse cx="200" cy="429"/><text x="200" y="429">3622774</text></g>
<g id="n-3217554" class="s"><ellipse cx="265" cy="441"/><text x="265" y="441">3217554</text></g>
<g id="n-3021776" class="s"><ellipse cx="201" cy="453"/><text x="201" y="453">3021776</text></g>
<g id="n-2727630" class="s"><ellipse cx="255" cy="463"/><text x="255" y="463">2727630</text></g>
<g id="n-7650717" class="s"><ellipse cx="219" cy="471"/><text x="219" y="471">7650717</text></g>
<g id="n-7416580" class="s"><ellipse cx="238" cy="474"/><text x="238" y="474">7416580</text></g>
<g id="n-27171" class="hb"><ellipse cx="232" cy="441"/><text x="232" y="441">27171</text></g>
<g id="n-2982236" class="s"><ellipse cx="366" cy="404"/><text x="366" y="404">2982236</text></g>
<g id="n-3283608" class="s"><ellipse cx="342" cy="414"/><text x="342" y="414">3283608</text></g>
<g id="n-3030917" class="s"><ellipse cx="384" cy="421"/><text x="384" y="421">3030917</text></g>
<g id="n-2993212" class="s"><ellipse cx="334" cy="443"/><text x="334" y="443">2993212</text></g>
<g id="n-4574809" class="s"><ellipse cx="389" cy="448"/><text x="389" y="448">4574809</text></g>
<g id="n-4572806" class="s"><ellipse cx="345" cy="470"/><text x="345" y="470">4572806</text></g>
<g id="n-2644968" class="s"><ellipse cx="374" cy="470"/><text x="374" y="470">2644968</text></g>
<g id="n-11991" class="hb"><ellipse cx="362" cy="440"/><text x="362" y="440">11991</text></g>
<g id="n-3268040" class="s"><ellipse cx="292" cy="470"/><text x="292" y="470">3268040</text></g>
<g id="n-2668240" class="s"><ellipse cx="332" cy="495"/><text x="332" y="495">2668240</text></g>
<g id="n-3690253" class="s"><ellipse cx="268" cy="511"/><text x="268" y="511">3690253</text></g>
<g id="n-3627377" class="s"><ellipse cx="307" cy="533"/><text x="307" y="533">3627377</text></g>
<g id="n-34677" class="hb"><ellipse cx="298" cy="505"/><text x="298" y="505">34677</text></g>
<g id="n-3732032" class="s"><ellipse cx="365" cy="520"/><text x="365" y="520">3732032</text></g>
<g id="n-4059163" class="s"><ellipse cx="378" cy="539"/><text x="378" y="539">4059163</text></g>
<g id="n-3362375" class="s"><ellipse cx="255" cy="538"/><text x="255" y="538">3362375</text></g>
<g id="n-2599224" class="s"><ellipse cx="527" cy="404"/><text x="527" y="404">2599224</text></g>
<g id="n-3263666" class="s"><ellipse cx="500" cy="416"/><text x="500" y="416">3263666</text></g>
<g id="n-3606077" class="s"><ellipse cx="550" cy="421"/><text x="550" y="421">3606077</text></g>
<g id="n-2290275" class="s"><ellipse cx="490" cy="443"/><text x="490" y="443">2290275</text></g>
<g id="n-2180329" class="s"><ellipse cx="553" cy="451"/><text x="553" y="451">2180329</text></g>
<g id="n-3471224" class="s"><ellipse cx="508" cy="470"/><text x="508" y="470">3471224</text></g>
<g id="n-1390082" class="s"><ellipse cx="535" cy="470"/><text x="535" y="470">1390082</text></g>
<g id="n-85290" class="hb"><ellipse cx="525" cy="440"/><text x="525" y="440">85290</text></g>
<g id="n-2887" class="t"><ellipse cx="455" cy="421"/><text x="455" y="421">2887</text></g>
<g id="n-3329536" class="s"><ellipse cx="435" cy="443"/><text x="435" y="443">3329536</text></g>
<g id="n-2477234" class="s"><ellipse cx="430" cy="471"/><text x="430" y="471">2477234</text></g>
<g id="n-2952087" class="s"><ellipse cx="470" cy="496"/><text x="470" y="496">2952087</text></g>
<g id="n-2487446" class="s"><ellipse cx="410" cy="511"/><text x="410" y="511">2487446</text></g>
<g id="n-2136029" class="s"><ellipse cx="452" cy="535"/><text x="452" y="535">2136029</text></g>
<g id="n-27120" class="hb"><ellipse cx="440" cy="503"/><text x="440" y="503">27120</text></g>
<g id="n-4671706" class="s"><ellipse cx="508" cy="518"/><text x="508" y="518">4671706</text></g>
<g id="n-3110818" class="s"><ellipse cx="513" cy="538"/><text x="513" y="538">3110818</text></g>
<g id="n-2897468" class="s"><ellipse cx="553" cy="516"/><text x="553" y="516">2897468</text></g>
<g id="n-3551111" class="s"><ellipse cx="560" cy="538"/><text x="560" y="538">3551111</text></g>
<g id="n-4090217" class="s"><ellipse cx="403" cy="538"/><text x="403" y="538">4090217</text></g>
<g id="n-1794420" class="s"><ellipse cx="575" cy="474"/><text x="575" y="474">1794420</text></g>
</g>
<g id="clusters">
<circle class="ring" cx="112" cy="124" r="46"/>
<circle class="ring" cx="221" cy="89" r="52"/>
<circle class="ring" cx="329" cy="60" r="53"/>
<circle class="ring" cx="441" cy="97" r="55"/>
<ellipse class="ring" cx="264" cy="140" rx="82" ry="19" transform="rotate(-22 264 140)"/>
<circle class="ring" cx="363" cy="180" r="55"/>
<circle class="ring" cx="158" cy="215" r="50"/>
<circle class="ring" cx="472" cy="211" r="49"/>
<circle class="ring" cx="268" cy="260" r="54"/>
<circle class="ring" cx="95" cy="290" r="49"/>
<circle class="ring" cx="386" cy="283" r="50"/>
<circle class="ring" cx="198" cy="354" r="51"/>
<circle class="ring" cx="300" cy="361" r="49"/>
<circle class="ring" cx="456" cy="360" r="50"/>
<circle class="ring" cx="117" cy="429" r="49"/>
<circle class="ring" cx="231" cy="440" r="49"/>
<circle class="ring" cx="363" cy="438" r="47"/>
<circle class="ring" cx="527" cy="434" r="54"/>
</g>
</svg>
